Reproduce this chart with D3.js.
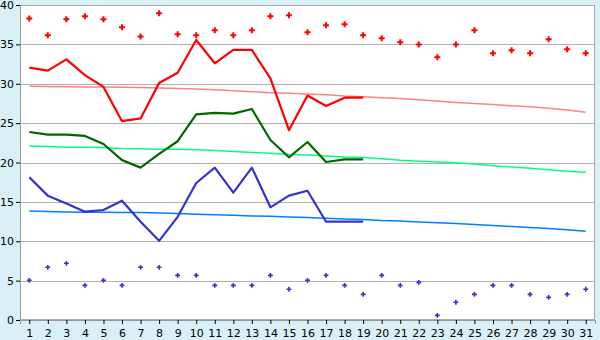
<!DOCTYPE html>
<html>
<head>
<meta charset="utf-8">
<script src="https://cdn.jsdelivr.net/npm/d3@7"></script>
<style>
  html, body { margin: 0; padding: 0; background: #d9f0f7; }
  svg text { font-family: "DejaVu Sans", Verdana, sans-serif; font-size: 11px; fill: #000; }
</style>
</head>
<body>
<svg id="chart" width="600" height="340"></svg>
<script>
/// data (days of the month, temperatures)
var days = d3.range(1, 32);

var maxPoints = [38.3, 36.15, 38.2, 38.56, 38.2, 37.16, 36.0, 38.94, 36.27, 36.15,
                 36.78, 36.15, 36.78, 38.56, 38.69, 36.53, 37.42, 37.55, 36.15, 35.77,
                 35.26, 35.0, 33.36, 35.0, 36.78, 33.86, 34.24, 33.86, 35.64, 34.37, 33.86];

var minPoints = [5.04, 6.69, 7.2, 4.4, 5.04, 4.4, 6.69, 6.69, 5.67, 5.67,
                 4.4, 4.4, 4.4, 5.67, 3.9, 5.04, 5.67, 4.4, 3.26, 5.67,
                 4.4, 4.78, 0.59, 2.25, 3.26, 4.4, 4.4, 3.26, 2.88, 3.26, 3.9];

// observed lines, days 1..19
var maxLine  = [32.04, 31.66, 33.1, 31.1, 29.6, 25.25, 25.6, 30.1, 31.4, 35.56,
                32.6, 34.3, 34.3, 30.69, 24.1, 28.5, 27.17, 28.23, 28.23];
var meanLine = [23.87, 23.53, 23.53, 23.37, 22.35, 20.3, 19.35, 21.1, 22.7, 26.1,
                26.3, 26.2, 26.8, 22.86, 20.66, 22.6, 20.06, 20.4, 20.4];
var minLine  = [18.12, 15.79, 14.8, 13.76, 13.97, 15.15, 12.48, 10.05, 13.1, 17.4,
                19.35, 16.17, 19.35, 14.31, 15.8, 16.42, 12.48, 12.48, 12.48];

// long term normals, days 1..31
var maxNormal = [29.68, 29.65, 29.62, 29.6, 29.59, 29.55, 29.52, 29.46, 29.4, 29.33,
                 29.23, 29.1, 28.99, 28.86, 28.78, 28.7, 28.6, 28.44, 28.34, 28.22,
                 28.14, 27.96, 27.81, 27.63, 27.5, 27.37, 27.2, 27.07, 26.9, 26.67, 26.37];
var meanNormal = [22.1, 22.03, 21.94, 21.93, 21.9, 21.78, 21.74, 21.69, 21.68, 21.61,
                  21.52, 21.4, 21.27, 21.17, 21.02, 20.95, 20.83, 20.7, 20.63, 20.48,
                  20.28, 20.15, 20.06, 19.96, 19.81, 19.58, 19.43, 19.26, 19.07, 18.89, 18.76];
var minNormal = [13.84, 13.78, 13.71, 13.69, 13.68, 13.66, 13.64, 13.59, 13.51, 13.43,
                 13.38, 13.3, 13.21, 13.17, 13.08, 13.02, 12.91, 12.83, 12.76, 12.63,
                 12.57, 12.44, 12.34, 12.24, 12.13, 12.0, 11.87, 11.75, 11.62, 11.45, 11.26];

var yTicks = [0, 5, 10, 15, 20, 25, 30, 35, 40];

/// dimensions
var margin = {top: 5, right: 5, bottom: 20, left: 20};
var W = 600, H = 340;
var plotW = W - margin.left - margin.right,
    plotH = H - margin.top - margin.bottom;

var svg = d3.select("#chart");

var x = d3.scalePoint().domain(days).range([0, plotW]).padding(0.5);
var y = d3.scaleLinear().domain([0, 40]).range([plotH, 0]);

var g = svg.append("g")
           .attr("transform", "translate(" + margin.left + "," + margin.top + ")");

// white plot background
g.append("rect")
 .attr("width", plotW)
 .attr("height", plotH)
 .style("fill", "#fff");

// horizontal grid
g.selectAll(".grid")
 .data(yTicks.filter(d => d > 0 && d < 40))
 .enter()
 .append("line")
 .attr("x1", 0).attr("x2", plotW)
 .attr("y1", d => Math.round(y(d)) + 0.5)
 .attr("y2", d => Math.round(y(d)) + 0.5)
 .style("stroke", "#b0b0b0")
 .style("stroke-width", 1);

// border
g.append("rect")
 .attr("x", 0.5).attr("y", 0.5)
 .attr("width", plotW - 1).attr("height", plotH - 1)
 .style("fill", "none")
 .style("stroke", "#aaaaaa");

// axes
var yAxis = g.append("g")
             .call(d3.axisLeft(y).tickValues(yTicks).tickSize(4).tickPadding(2));
var xAxis = g.append("g")
             .attr("transform", "translate(0," + plotH + ")")
             .call(d3.axisBottom(x).tickSize(4).tickPadding(5));

svg.selectAll(".domain").style("stroke", "#999");
svg.selectAll(".tick line").style("stroke", "#000");
svg.selectAll(".tick text").style("font-family", "DejaVu Sans, Verdana, sans-serif")
   .style("font-size", "11px").style("fill", "#000");

function series(values) {
  return values.map((v, i) => ({day: days[i], v: v}));
}

var line = d3.line().x(d => x(d.day)).y(d => y(d.v));

// normals (thin)
[[maxNormal, "#ff8080"], [meanNormal, "#00ff80"], [minNormal, "#0080ff"]].forEach(function(s) {
  g.append("path")
   .datum(series(s[0]))
   .attr("d", line)
   .style("fill", "none")
   .style("stroke", s[1])
   .style("stroke-width", 1.5);
});

// observed (thick)
[[maxLine, "#ff0000"], [meanLine, "#006600"], [minLine, "#3333cc"]].forEach(function(s) {
  g.append("path")
   .datum(series(s[0]))
   .attr("d", line)
   .style("fill", "none")
   .style("stroke", s[1])
   .style("stroke-width", 2.2)
   .style("stroke-linejoin", "round");
});

// extreme points
g.selectAll(".maxPt")
 .data(series(maxPoints))
 .enter()
 .append("path")
 .attr("d", d3.symbol().type(d3.symbolCross).size(20))
 .attr("transform", d => "translate(" + x(d.day) + "," + y(d.v) + ")")
 .style("fill", "#ff0000");

g.selectAll(".minPt")
 .data(series(minPoints))
 .enter()
 .append("path")
 .attr("d", d3.symbol().type(d3.symbolCross).size(13))
 .attr("transform", d => "translate(" + x(d.day) + "," + y(d.v) + ")")
 .style("fill", "#3333cc");
</script>
</body>
</html>
